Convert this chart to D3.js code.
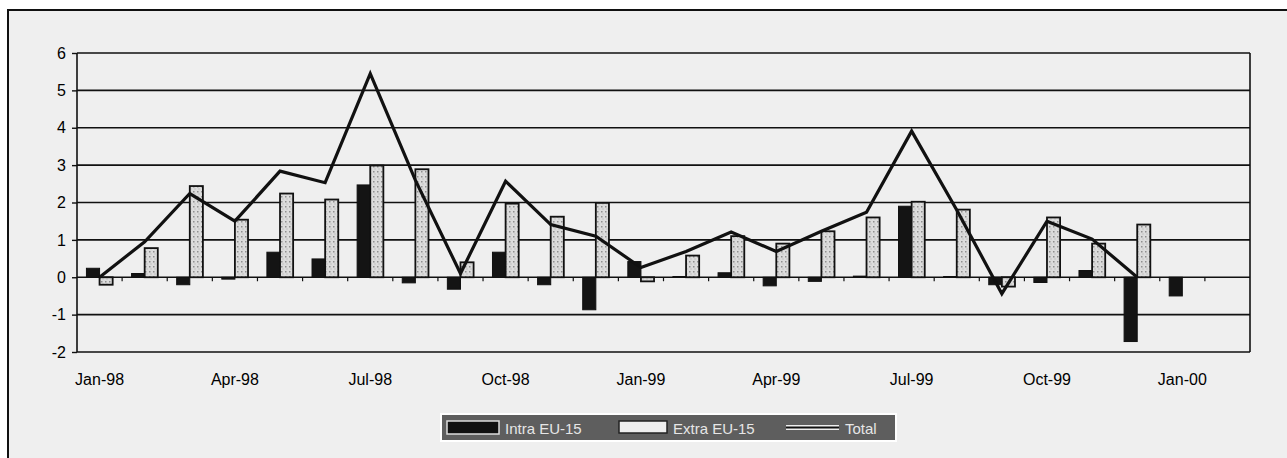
<!DOCTYPE html>
<html>
<head>
<meta charset="utf-8">
<script src="https://cdn.jsdelivr.net/npm/d3@7/dist/d3.min.js"></script>
<style>
  html, body { margin: 0; padding: 0; background: #ffffff; }
  svg { display: block; }
  text { font-family: "Liberation Sans", Arial, sans-serif; }
</style>
</head>
<body>
<svg id="chart" width="1287" height="458"></svg>
<script>
// Monthly growth, Jan-98 to Feb-00
const months = ["Jan-98","Feb-98","Mar-98","Apr-98","May-98","Jun-98","Jul-98","Aug-98","Sep-98","Oct-98","Nov-98","Dec-98",
                "Jan-99","Feb-99","Mar-99","Apr-99","May-99","Jun-99","Jul-99","Aug-99","Sep-99","Oct-99","Nov-99","Dec-99",
                "Jan-00","Feb-00"];
const intraEU15 = [0.24, 0.10, -0.20, -0.05, 0.67, 0.49, 2.47, -0.15, -0.32, 0.67, -0.20, -0.87,
                   0.42, 0.02, 0.12, -0.23, -0.11, 0.03, 1.90, 0.02, -0.20, -0.14, 0.18, -1.72,
                   -0.50, null];
const extraEU15 = [-0.20, 0.78, 2.44, 1.54, 2.24, 2.08, 2.99, 2.89, 0.40, 1.97, 1.62, 1.99,
                   -0.11, 0.58, 1.10, 0.90, 1.23, 1.60, 2.02, 1.81, -0.25, 1.60, 0.90, 1.41,
                   null, null];
const totalSeries = [0.00, 0.95, 2.24, 1.50, 2.84, 2.53, 5.45, 2.60, 0.10, 2.57, 1.41, 1.10,
                     0.26, 0.69, 1.21, 0.69, 1.23, 1.74, 3.91, 1.80, -0.44, 1.50, 1.02, 0.00,
                     null, null];
const xTickLabels = ["Jan-98","Apr-98","Jul-98","Oct-98","Jan-99","Apr-99","Jul-99","Oct-99","Jan-00"];
const yTicks = [-2, -1, 0, 1, 2, 3, 4, 5, 6];
const seriesNames = ["Intra EU-15", "Extra EU-15", "Total"];

const svg = d3.select("#chart");
const W = 1287, H = 458;
const plot = { left: 77, top: 53, right: 1250, bottom: 352 };

// background and outer frame
svg.append("rect").attr("width", W).attr("height", H).attr("fill", "#ffffff");
svg.append("rect").attr("x", 8).attr("y", 10).attr("width", W).attr("height", H)
  .attr("fill", "#efefef").attr("stroke", "#111").attr("stroke-width", 2);

// dotted texture for the hollow bars
const defs = svg.append("defs");
const pat = defs.append("pattern").attr("id", "dots").attr("patternUnits", "userSpaceOnUse")
  .attr("width", 4).attr("height", 5);
pat.append("rect").attr("width", 4).attr("height", 5).attr("fill", "#dcdcdc");
pat.append("rect").attr("x", 1).attr("y", 1).attr("width", 1.5).attr("height", 1.5).attr("fill", "#8f8f8f");
pat.append("rect").attr("x", 2.5).attr("y", 3.5).attr("width", 1).attr("height", 1).attr("fill", "#aaaaaa");

const x = d3.scaleBand().domain(months).range([plot.left, plot.right]).paddingInner(0).paddingOuter(0);
const xs = d3.scaleBand().domain(["intra", "extra"]).range([0, x.bandwidth()]).paddingInner(0).paddingOuter(0.72);
const y = d3.scaleLinear().domain([-2, 6]).range([plot.bottom, plot.top]);

// gridlines
svg.append("g").selectAll("line").data(yTicks).join("line")
  .attr("x1", plot.left).attr("x2", plot.right)
  .attr("y1", d => y(d)).attr("y2", d => y(d))
  .attr("stroke", "#111").attr("stroke-width", 1.6);

// plot border (left and right)
svg.append("line").attr("x1", plot.left).attr("x2", plot.left).attr("y1", plot.top).attr("y2", plot.bottom)
  .attr("stroke", "#111").attr("stroke-width", 1.6);
svg.append("line").attr("x1", plot.right).attr("x2", plot.right).attr("y1", plot.top).attr("y2", plot.bottom)
  .attr("stroke", "#111").attr("stroke-width", 1.6);

// y axis
const yAxis = svg.append("g").attr("transform", `translate(${plot.left},0)`)
  .call(d3.axisLeft(y).tickValues(yTicks).tickSize(5).tickFormat(d => String(d)));
yAxis.select(".domain").remove();
yAxis.selectAll("line").attr("stroke", "#111").attr("stroke-width", 1.4);
yAxis.selectAll("text").attr("font-size", 16).attr("fill", "#000").attr("dx", "-3");

// category ticks on the zero line
svg.append("g").selectAll("line").data(months.slice(1)).join("line")
  .attr("x1", d => x(d)).attr("x2", d => x(d))
  .attr("y1", y(0)).attr("y2", y(0) + 4)
  .attr("stroke", "#111").attr("stroke-width", 1.2);

// x labels every third month
const xAxis = svg.append("g").attr("transform", `translate(0,${plot.bottom})`)
  .call(d3.axisBottom(x).tickValues(xTickLabels).tickSize(0).tickPadding(22));
xAxis.select(".domain").remove();
xAxis.selectAll("text").attr("font-size", 16).attr("fill", "#000");

// bars
const barRows = months.map((m, i) => ({ m, intra: intraEU15[i], extra: extraEU15[i] }));
const g = svg.append("g");
g.selectAll("rect.intra").data(barRows.filter(d => d.intra != null)).join("rect")
  .attr("class", "intra")
  .attr("x", d => x(d.m) + xs("intra"))
  .attr("width", xs.bandwidth())
  .attr("y", d => y(Math.max(0, d.intra)))
  .attr("height", d => Math.abs(y(d.intra) - y(0)))
  .attr("fill", "#141414").attr("stroke", "#111").attr("stroke-width", 1);
g.selectAll("rect.extra").data(barRows.filter(d => d.extra != null)).join("rect")
  .attr("class", "extra")
  .attr("x", d => x(d.m) + xs("extra"))
  .attr("width", xs.bandwidth())
  .attr("y", d => y(Math.max(0, d.extra)))
  .attr("height", d => Math.abs(y(d.extra) - y(0)))
  .attr("fill", "url(#dots)").attr("stroke", "#111").attr("stroke-width", 1.8);

// total line
const linePts = months.map((m, i) => ({ m, v: totalSeries[i] })).filter(d => d.v != null);
svg.append("path").datum(linePts)
  .attr("d", d3.line().x(d => x(d.m) + x.bandwidth() / 2).y(d => y(d.v)))
  .attr("fill", "none").attr("stroke", "#111").attr("stroke-width", 3.2).attr("stroke-linejoin", "miter");

// legend
const lg = svg.append("g").attr("transform", "translate(441,414)");
lg.append("rect").attr("width", 455).attr("height", 27)
  .attr("fill", "#5e5e5e").attr("stroke", "#ffffff").attr("stroke-width", 2);
lg.append("rect").attr("x", 6).attr("y", 7).attr("width", 52).attr("height", 13)
  .attr("fill", "#111").attr("stroke", "#ddd").attr("stroke-width", 1.5);
lg.append("text").attr("x", 64).attr("y", 19.5).attr("font-size", 15).attr("fill", "#e6e6e6").text(seriesNames[0]);
lg.append("rect").attr("x", 178).attr("y", 7).attr("width", 48).attr("height", 12)
  .attr("fill", "#eeeeee").attr("stroke", "#222").attr("stroke-width", 1.5);
lg.append("text").attr("x", 232).attr("y", 19.5).attr("font-size", 15).attr("fill", "#e6e6e6").text(seriesNames[1]);
lg.append("line").attr("x1", 345).attr("x2", 398).attr("y1", 13.5).attr("y2", 13.5)
  .attr("stroke", "#eeeeee").attr("stroke-width", 5);
lg.append("line").attr("x1", 345).attr("x2", 398).attr("y1", 13.5).attr("y2", 13.5)
  .attr("stroke", "#111").attr("stroke-width", 2);
lg.append("text").attr("x", 404).attr("y", 19.5).attr("font-size", 15).attr("fill", "#e6e6e6").text(seriesNames[2]);
</script>
</body>
</html>
